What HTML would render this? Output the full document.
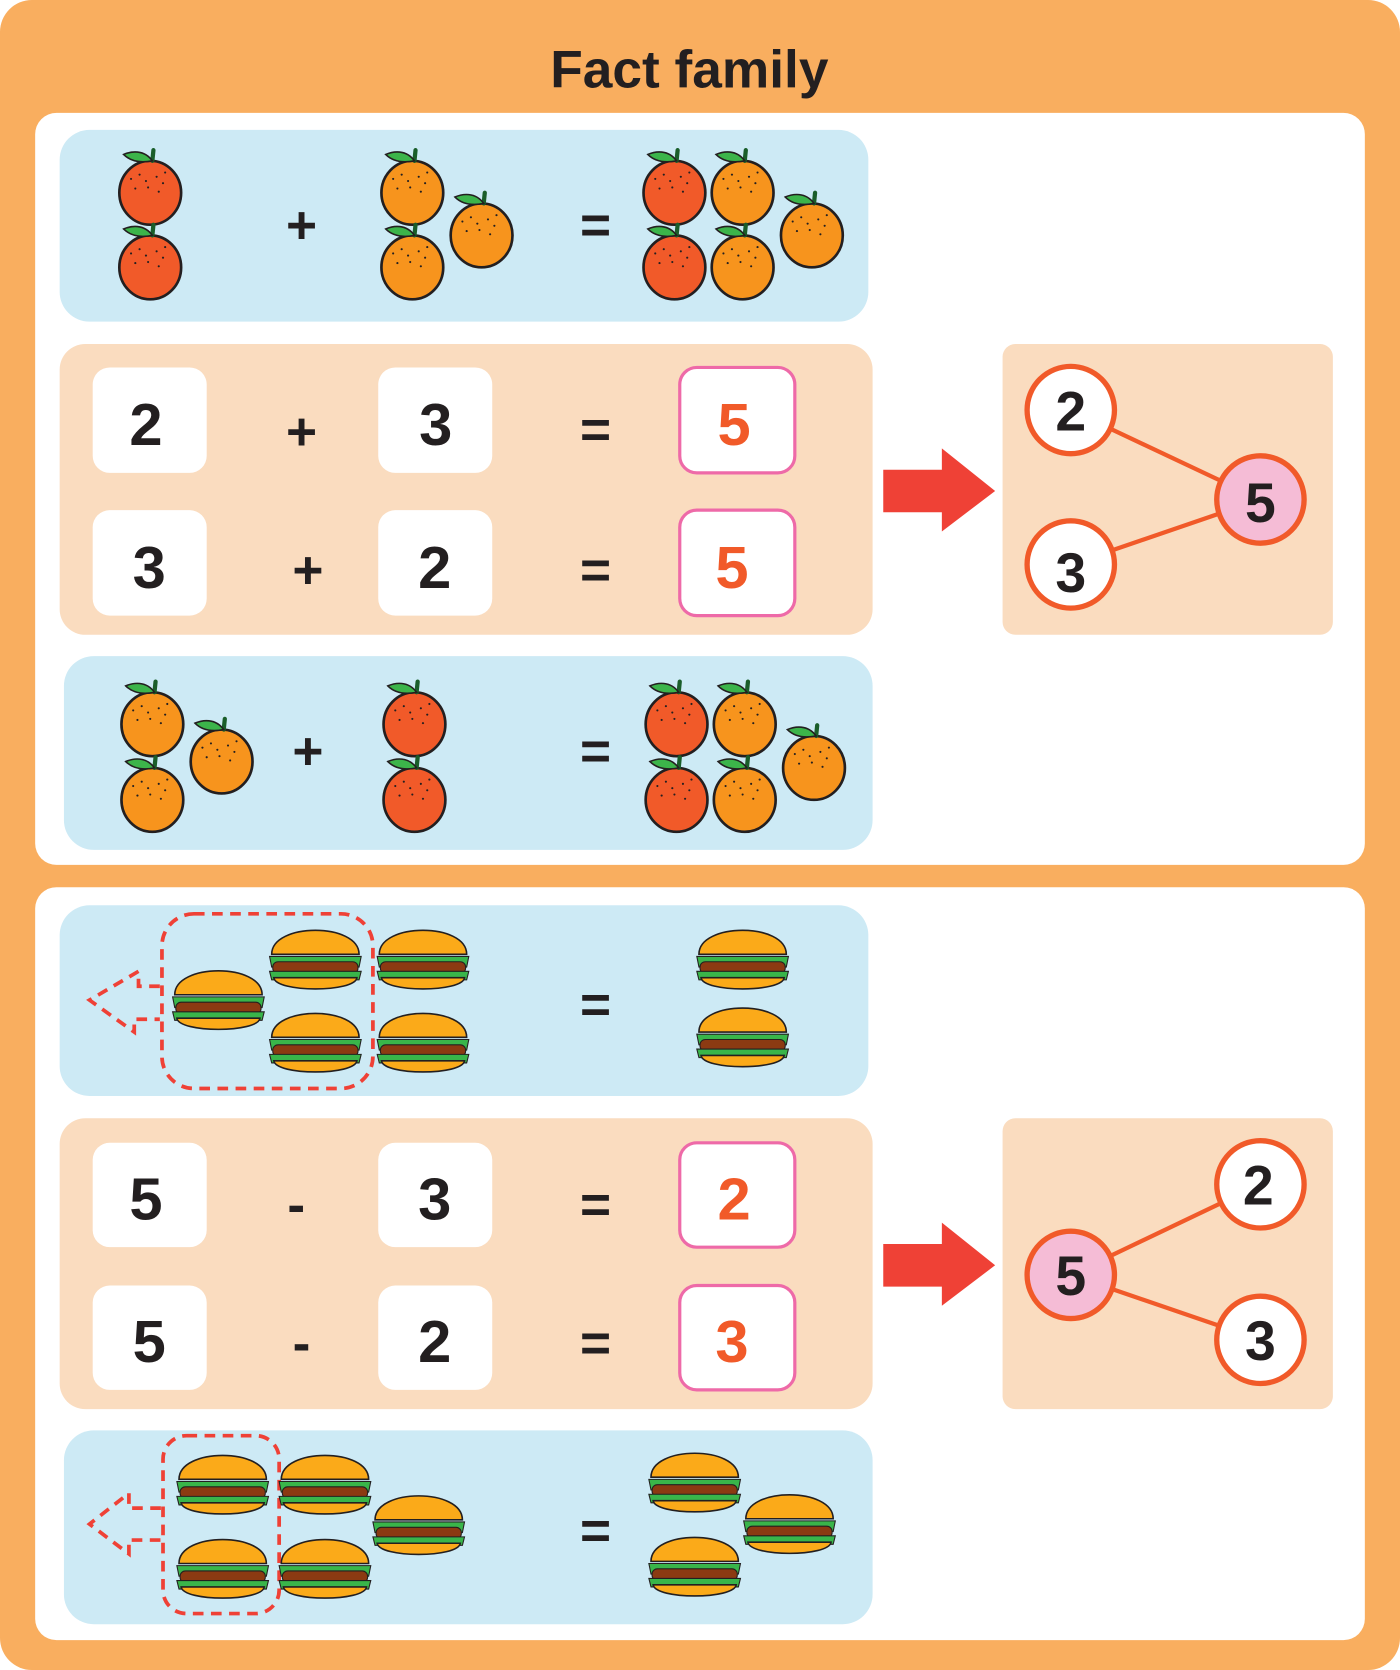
<!DOCTYPE html><html><head><style>html,body{margin:0;padding:0;background:#fff}svg{display:block}</style></head><body>
<svg width="1400" height="1670" viewBox="0 0 1314 1568" preserveAspectRatio="none" xmlns="http://www.w3.org/2000/svg" font-family="Liberation Sans, sans-serif">
<defs>
<g id="fr"><ellipse cx="0" cy="3" rx="29" ry="30" stroke="#231f20" stroke-width="2.5"/><path d="M2,-27 L3,-37" stroke="#1a5e2a" stroke-width="4" stroke-linecap="round"/><path d="M2,-27 C-6,-38 -18,-36 -25,-33 C-18,-26 -8,-25 2,-27Z" fill="#3cb44a" stroke="#231f20" stroke-width="1.5"/>
<g fill="#231f20"><circle cx="-18" cy="-10" r="1"/><circle cx="-10" cy="-14" r="1"/><circle cx="-4" cy="-8" r="1"/><circle cx="6" cy="-12" r="1"/><circle cx="12" cy="-6" r="1"/><circle cx="-14" cy="-1" r="1"/><circle cx="-2" cy="-2" r="1"/><circle cx="8" cy="2" r="1"/><circle cx="14" cy="-16" r="1"/></g></g>
<g id="bg"><g transform="translate(0,-4)"><path d="M-41,-2 C-41,-32 41,-32 41,-2Z" fill="#fbaa19" stroke="#231f20" stroke-width="1.5"/><path d="M-43,0 L43,0 L41,10 L-41,10Z" fill="#39b54a" stroke="#231f20" stroke-width="1"/><rect x="-40" y="5" width="80" height="11" rx="5" fill="#8b3a12" stroke="#231f20" stroke-width="1"/><path d="M-43,14 L43,14 L41,22 L-41,22Z" fill="#39b54a" stroke="#231f20" stroke-width="1"/><path d="M-39,20 L39,20 C37,34 -37,34 -39,20Z" fill="#fbaa19" stroke="#231f20" stroke-width="1.5"/></g></g>
</defs>
<rect x="0" y="0" width="1314" height="1568" rx="30" fill="#f9ae5f"/>
<text x="647" y="82" text-anchor="middle" font-size="50" font-weight="bold" fill="#231f20">Fact family</text>
<rect x="33" y="106" width="1248" height="706" rx="20" fill="#fff"/>
<rect x="33" y="833" width="1248" height="707" rx="20" fill="#fff"/>
<g fill="#cdeaf5"><rect x="56" y="122" width="759" height="180" rx="28"/><rect x="60" y="616" width="759" height="182" rx="28"/><rect x="56" y="850" width="759" height="179" rx="28"/><rect x="60" y="1343" width="759" height="182" rx="28"/></g>
<g fill="#fadcbf"><rect x="56" y="323" width="763" height="273" rx="24"/><rect x="941" y="323" width="310" height="273" rx="12"/><rect x="56" y="1050" width="763" height="273" rx="24"/><rect x="941" y="1050" width="310" height="273" rx="12"/></g>
<g fill="#fff"><rect x="87" y="345" width="107" height="99" rx="16"/><rect x="355" y="345" width="107" height="99" rx="16"/><rect x="87" y="479" width="107" height="99" rx="16"/><rect x="355" y="479" width="107" height="99" rx="16"/><rect x="87" y="1073" width="107" height="98" rx="16"/><rect x="355" y="1073" width="107" height="98" rx="16"/><rect x="87" y="1207" width="107" height="98" rx="16"/><rect x="355" y="1207" width="107" height="98" rx="16"/></g>
<g fill="#fff" stroke="#ee6aa8" stroke-width="3"><rect x="638" y="345" width="108" height="99" rx="16"/><rect x="638" y="479" width="108" height="99" rx="16"/><rect x="638" y="1073" width="108" height="98" rx="16"/><rect x="638" y="1207" width="108" height="98" rx="16"/></g>
<g font-size="56" font-weight="bold" text-anchor="middle" fill="#231f20">
<text x="137" y="418">2</text><text x="409" y="418">3</text><text x="689" y="418" fill="#f15a29">5</text>
<text x="140" y="552">3</text><text x="408" y="552">2</text><text x="687" y="552" fill="#f15a29">5</text>
<text x="137" y="1145">5</text><text x="408" y="1145">3</text><text x="689" y="1145" fill="#f15a29">2</text>
<text x="140" y="1279">5</text><text x="408" y="1279">2</text><text x="687" y="1279" fill="#f15a29">3</text>
</g>
<g font-size="50" font-weight="bold" text-anchor="middle" fill="#231f20">
<text x="283" y="228">+</text><text x="559" y="228">=</text>
<text x="283" y="422">+</text><text x="559" y="420">=</text>
<text x="289" y="552">+</text><text x="559" y="552">=</text>
<text x="289" y="722">+</text><text x="559" y="722">=</text>
<text x="559" y="960">=</text>
<text x="278" y="1148">-</text><text x="559" y="1148">=</text>
<text x="283" y="1278">-</text><text x="559" y="1278">=</text>
<text x="559" y="1454">=</text>
</g>
<g fill="#ef4136"><path d="M829,441 H884 V421 L934,461 L884,499 V481 H829Z"/><path d="M829,1168 H884 V1148 L934,1188 L884,1226 V1208 H829Z"/></g>
<g stroke="#f15a29" stroke-width="4"><line x1="1005" y1="385" x2="1183" y2="469"/><line x1="1005" y1="530" x2="1183" y2="469"/><line x1="1005" y1="1197" x2="1183" y2="1112"/><line x1="1005" y1="1197" x2="1183" y2="1258"/></g>
<g stroke="#f15a29" stroke-width="5" fill="#fff"><circle cx="1005" cy="385" r="41"/><circle cx="1005" cy="530" r="41"/><circle cx="1183" cy="469" r="41" fill="#f5bcd6"/><circle cx="1005" cy="1197" r="41" fill="#f5bcd6"/><circle cx="1183" cy="1112" r="41"/><circle cx="1183" cy="1258" r="41"/></g>
<g font-size="52" font-weight="bold" text-anchor="middle" fill="#231f20"><text x="1005" y="404">2</text><text x="1005" y="556">3</text><text x="1183" y="490">5</text><text x="1005" y="1216">5</text><text x="1181" y="1131">2</text><text x="1183" y="1277">3</text></g>
<g fill="#f15a29"><use href="#fr" x="141" y="178"/><use href="#fr" x="141" y="248"/><use href="#fr" x="633" y="178"/><use href="#fr" x="633" y="248"/><use href="#fr" x="389" y="677"/><use href="#fr" x="389" y="748"/><use href="#fr" x="635" y="677"/><use href="#fr" x="635" y="748"/></g>
<g fill="#f7941d"><use href="#fr" x="387" y="178"/><use href="#fr" x="387" y="248"/><use href="#fr" x="452" y="218"/><use href="#fr" x="697" y="178"/><use href="#fr" x="697" y="248"/><use href="#fr" x="762" y="218"/><use href="#fr" x="143" y="677"/><use href="#fr" x="143" y="748"/><use href="#fr" x="208" y="712"/><use href="#fr" x="699" y="677"/><use href="#fr" x="699" y="748"/><use href="#fr" x="764" y="718"/></g>
<g fill="none" stroke="#ef4136" stroke-width="3.5" stroke-dasharray="10 7">
<rect x="152" y="858" width="198" height="164" rx="30"/>
<path d="M150,926 H130 V912 L84,939 L126,969 V957 H150"/>
<rect x="153" y="1348" width="109" height="167" rx="22"/>
<path d="M151,1416 H121 V1402 L84,1431 L121,1459 V1446 H151"/>
</g>
<g><use href="#bg" x="205" y="940"/><use href="#bg" x="296" y="902"/><use href="#bg" x="296" y="980"/><use href="#bg" x="397" y="902"/><use href="#bg" x="397" y="980"/><use href="#bg" x="697" y="902"/><use href="#bg" x="697" y="975"/>
<use href="#bg" x="209" y="1395"/><use href="#bg" x="209" y="1474"/><use href="#bg" x="305" y="1395"/><use href="#bg" x="305" y="1474"/><use href="#bg" x="393" y="1433"/><use href="#bg" x="652" y="1393"/><use href="#bg" x="652" y="1472"/><use href="#bg" x="741" y="1432"/></g>
</svg>
</body></html>
